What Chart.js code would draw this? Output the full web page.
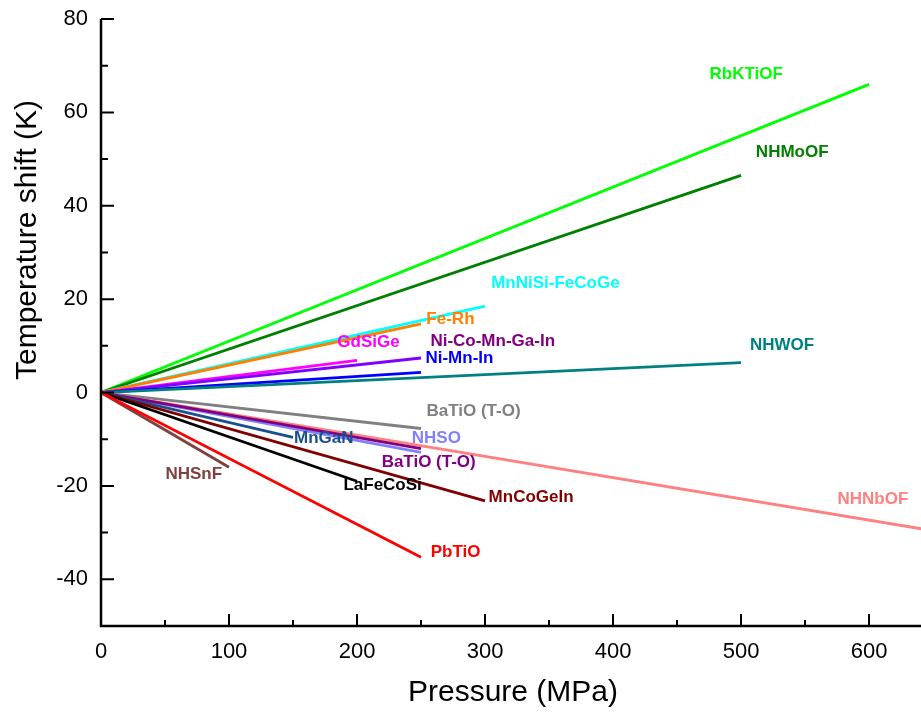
<!DOCTYPE html>
<html>
<head>
<meta charset="utf-8">
<script src="https://cdn.jsdelivr.net/npm/chart.js@4.4.1/dist/chart.umd.min.js"></script>
<style>
html,body{margin:0;padding:0;background:#fff;}
canvas{display:block;}
</style>
</head>
<body>
<canvas id="c" width="921" height="718"></canvas>
<script>
// ---- data ----
const materials = ["RbKTiOF","NHMoOF","MnNiSi-FeCoGe","Fe-Rh","GdSiGe","Ni-Co-Mn-Ga-In","Ni-Mn-In","NHWOF",
  "BaTiO (T-O)","NHNbOF","NHSO","BaTiO (T-O)","MnGaN","MnCoGeIn","LaFeCoSi","NHSnF","PbTiO"];
const endPressure = [600,500,300,250,200,250,250,500, 250,650,250,250,150,300,200,100,250];
const endShift    = [66,46.5,18.5,14.7,6.9,7.4,4.3,6.4, -7.7,-29.6,-12.8,-12,-9.6,-23.2,-19,-16,-35.3];
// label anchor (text centre) in data units
const labelX = [504,540,355,273,209,306,280,532, 291,603,262,256,174,336,220,72.5,277];
const labelY = [68.1,51.5,23.4,15.6,10.7,11.0,7.4,10.2, -4.0,-22.8,-9.8,-14.9,-9.8,-22.5,-19.8,-17.5,-34.2];
const xTicks = [0,100,200,300,400,500,600];
const yTicks = [-40,-20,0,20,40,60,80];

// ---- styles ----
const lineColors = ["#00FF00","#008000","#00FFFF","#FF8000","#FF00FF","#8000FF","#0000FF","#008080",
  "#808080","#FF8080","#8080FF","#800080","#1B4F8F","#800000","#000000","#804040","#FF0000"];
const labelColors = ["#00FF00","#008000","#00FFFF","#FF8000","#FF00FF","#800080","#0000FF","#008080",
  "#808080","#FF8080","#8080FF","#800080","#1B4F8F","#800000","#000000","#804040","#FF0000"];

const datasets = materials.map((m,i)=>({
  label: m,
  data: [{x:0,y:0},{x:endPressure[i],y:endShift[i]}],
  borderColor: lineColors[i],
  borderWidth: 2.8,
  pointRadius: 0,
  fill: false,
  tension: 0
})).reverse();

const FONT = '"Liberation Sans", Arial, Helvetica, sans-serif';

const decor = {
  id: 'decor',
  afterDatasetsDraw(chart){
    const ctx = chart.ctx, xs = chart.scales.x, ys = chart.scales.y, a = chart.chartArea;
    ctx.save();
    // labels
    ctx.font = 'bold 17px ' + FONT;
    ctx.textAlign = 'center';
    ctx.textBaseline = 'middle';
    materials.forEach((m,i)=>{
      ctx.fillStyle = labelColors[i];
      ctx.fillText(m, xs.getPixelForValue(labelX[i]), ys.getPixelForValue(labelY[i]));
    });
    // axes
    ctx.strokeStyle = '#000';
    ctx.lineWidth = 2.5;
    ctx.beginPath();
    ctx.moveTo(a.left, a.top); ctx.lineTo(a.left, a.bottom); ctx.lineTo(a.right, a.bottom);
    ctx.stroke();
    // inward ticks
    ctx.lineWidth = 2;
    ctx.beginPath();
    for (let v = 50; v <= 640; v += 50) {
      const px = xs.getPixelForValue(v);
      const len = (v % 100 === 0) ? 12 : 6;
      ctx.moveTo(px, a.bottom); ctx.lineTo(px, a.bottom - len);
    }
    for (let v = -40; v <= 80; v += 10) {
      const py = ys.getPixelForValue(v);
      const len = (v % 20 === 0) ? 13 : 7;
      ctx.moveTo(a.left, py); ctx.lineTo(a.left + len, py);
    }
    ctx.stroke();
    // axis titles
    ctx.fillStyle = '#000';
    ctx.font = '30px ' + FONT;
    ctx.textAlign = 'center';
    ctx.textBaseline = 'middle';
    ctx.fillText('Pressure (MPa)', 513, 693);
    ctx.translate(28, 240);
    ctx.rotate(-Math.PI/2);
    ctx.fillText('Temperature shift (K)', 0, 0);
    ctx.restore();
  }
};

new Chart(document.getElementById('c'), {
  type: 'line',
  data: { datasets },
  options: {
    responsive: false,
    animation: false,
    devicePixelRatio: 1,
    layout: { padding: { top: 19, right: 0, left: 0, bottom: 0 } },
    plugins: { legend: { display: false }, tooltip: { enabled: false } },
    scales: {
      x: {
        type: 'linear', min: 0, max: 640.6,
        afterFit(s){ s.height = 92; s.paddingLeft = 0; s.paddingRight = 0; },
        afterBuildTicks(s){ s.ticks = xTicks.map(v=>({value:v})); },
        grid: { display: false, drawTicks: false },
        border: { display: false },
        ticks: { color: '#000', font: { size: 22, family: FONT }, padding: 13, maxRotation: 0, autoSkip: false }
      },
      y: {
        type: 'linear', min: -50, max: 80,
        afterFit(s){ s.width = 101; s.paddingTop = 0; s.paddingBottom = 0; },
        afterBuildTicks(s){ s.ticks = yTicks.map(v=>({value:v})); },
        grid: { display: false, drawTicks: false },
        border: { display: false },
        ticks: { color: '#000', font: { size: 22, family: FONT }, padding: 13, autoSkip: false }
      }
    }
  },
  plugins: [decor]
});
</script>
</body>
</html>
